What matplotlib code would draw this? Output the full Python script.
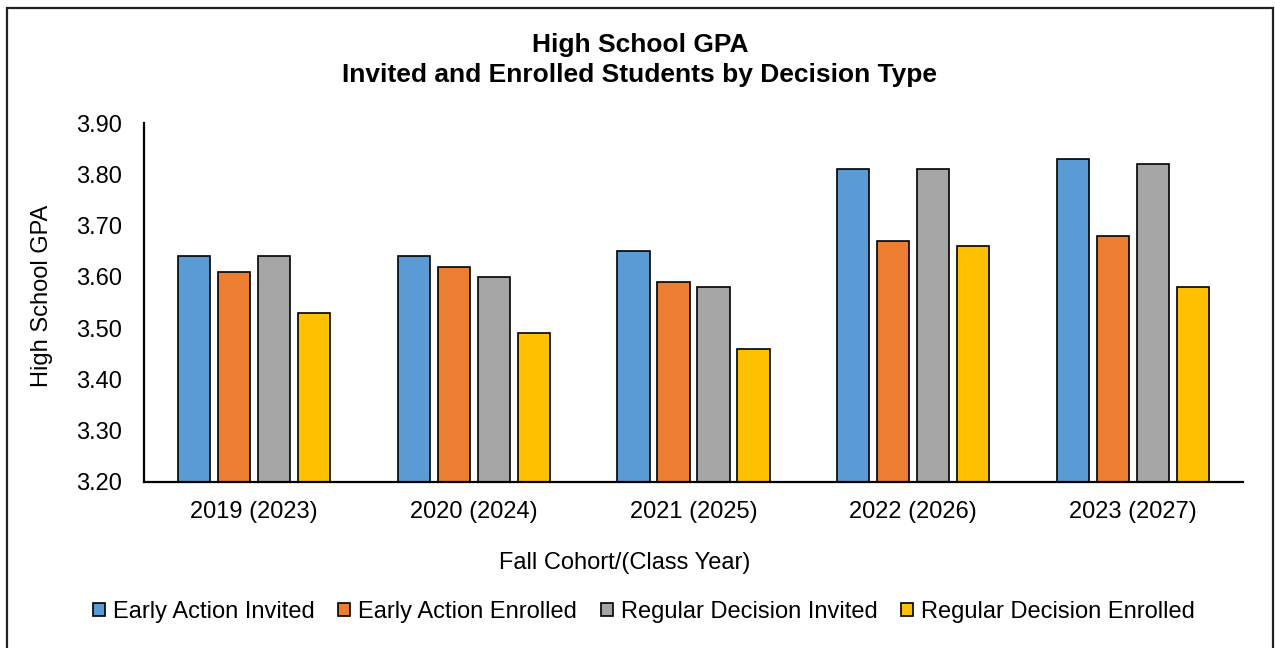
import numpy as np
import matplotlib
matplotlib.use("Agg")
import matplotlib.pyplot as plt
from matplotlib.patches import Rectangle

# Datos
cohorts = ["2019 (2023)", "2020 (2024)", "2021 (2025)", "2022 (2026)", "2023 (2027)"]
series_names = [
    "Early Action Invited",
    "Early Action Enrolled",
    "Regular Decision Invited",
    "Regular Decision Enrolled",
]
ea_invited = [3.64, 3.64, 3.65, 3.81, 3.83]
ea_enrolled = [3.61, 3.62, 3.59, 3.67, 3.68]
rd_invited = [3.64, 3.60, 3.58, 3.81, 3.82]
rd_enrolled = [3.53, 3.49, 3.46, 3.66, 3.58]
y_ticks = [3.20, 3.30, 3.40, 3.50, 3.60, 3.70, 3.80, 3.90]

colors = ["#5B9BD5", "#ED7D31", "#A5A5A5", "#FFC000"]

plt.rcParams["font.family"] = ["Liberation Sans", "DejaVu Sans"]

fig = plt.figure(figsize=(12.75, 6.48), dpi=100)
ax = fig.add_axes([144 / 1275, 1 - 482 / 648, (1243 - 144) / 1275, (482 - 123) / 648])

# Marco exterior
fig.patches.append(
    Rectangle((7 / 1275, -0.05), (1273 - 7) / 1275, 1.05 - 8 / 648,
              transform=fig.transFigure, fill=False, edgecolor="#222222", linewidth=1.6)
)

x = np.arange(len(cohorts))
pitch = 0.182
width = 0.146
all_series = [ea_invited, ea_enrolled, rd_invited, rd_enrolled]
for i, (vals, name, c) in enumerate(zip(all_series, series_names, colors)):
    offset = (i - 1.5) * pitch
    ax.bar(x + offset, np.array(vals) - 3.20, width, bottom=3.20, color=c,
           edgecolor="black", linewidth=1.2, label=name)

ax.set_xlim(-0.5, len(cohorts) - 0.5)
ax.set_ylim(3.20, 3.90)
ax.set_yticks(y_ticks)
ax.set_yticklabels([f"{v:.2f}" for v in y_ticks], fontsize=17)
ax.set_xticks(x)
ax.set_xticklabels(cohorts, fontsize=17)
ax.tick_params(axis="y", length=0, pad=16)
ax.tick_params(axis="x", length=0, pad=14)

for s in ["top", "right"]:
    ax.spines[s].set_visible(False)
ax.spines["left"].set_linewidth(1.6)
ax.spines["bottom"].set_linewidth(1.6)

# Etiquetas de ejes
fig.text(42 / 1275, 1 - 296 / 648, "High School GPA", fontsize=17,
         rotation=90, ha="center", va="center")
fig.text(625 / 1275, 1 - 563 / 648, "Fall Cohort/(Class Year)", fontsize=17,
         ha="center", va="center")

fig.text(640 / 1275, 1 - 60 / 648,
         "High School GPA\nInvited and Enrolled Students by Decision Type",
         fontsize=19, fontweight="bold", ha="center", va="center", linespacing=1.3)

fig.legend(loc="center", bbox_to_anchor=(644 / 1275, 1 - 612 / 648), ncol=4,
           fontsize=17, frameon=False, handlelength=0.5, handleheight=0.5,
           handletextpad=0.35, columnspacing=1.0)

fig.savefig("out.png", dpi=100)
